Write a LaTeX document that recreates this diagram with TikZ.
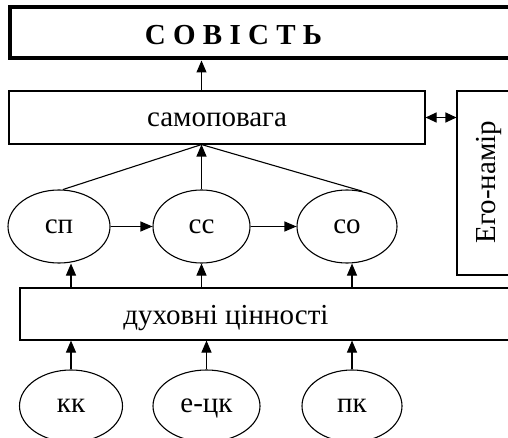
\documentclass[tikz,border=0pt]{standalone}
\usepackage{fontspec}
\setmainfont{Liberation Serif}
\usetikzlibrary{arrows.meta,shapes.geometric}
\begin{document}
\begin{tikzpicture}[x=1pt,y=1pt,
  thinline/.style={line width=1.1pt},
  box/.style={draw, line width=1.1pt, rectangle, inner sep=0pt, font=\fontsize{29}{31}\selectfont},
  oval/.style={draw, line width=1.1pt, ellipse, inner sep=0pt, font=\fontsize{29}{31}\selectfont, text height=13pt, text depth=0pt},
  arr/.style={line width=1.1pt, -{Triangle[length=12pt,width=10pt]}},
  darr/.style={line width=1.1pt, {Triangle[length=11pt,width=10pt]}-{Triangle[length=11pt,width=10pt]}},
  lbl/.style={font=\fontsize{29}{31}\selectfont, inner sep=0pt}
]
\useasboundingbox (0,0) rectangle (508,437);
\clip (0,0) rectangle (508,437);
\fill[white] (0,0) rectangle (508,437);

\node[draw, line width=4pt, minimum width=510pt, minimum height=51.5pt, inner sep=0pt] (ts) at (265,404.25) {};
\node[lbl, font=\bfseries\fontsize{29}{31}\selectfont, anchor=base] (title) at (233.5,392) {С О В І С Т Ь};

\node[box, minimum width=416pt, minimum height=53pt, text height=19pt, text depth=0pt] (sam) at (217,319.5) {самоповага};
\node[draw, line width=1.1pt, minimum width=73pt, minimum height=184pt, inner sep=0pt] (ego) at (493.5,254) {};
\node[lbl, rotate=90, anchor=base] (egot) at (495,255) {Его-намір};

\node[oval, minimum width=102pt, minimum height=73pt] (sp) at (59,210.5) {сп};
\node[oval, minimum width=97pt, minimum height=73pt] (cc) at (201.5,210.5) {сс};
\node[oval, minimum width=100pt, minimum height=73pt] (co) at (347,210.5) {со};

\node[draw, line width=1.1pt, minimum width=510pt, minimum height=52pt, inner sep=0pt] (dc) at (275,123) {};
\node[lbl, anchor=base] (dct) at (226,113) {духовні цінності};

\node[oval, minimum width=103pt, minimum height=72pt] (kk) at (71,31) {кк};
\node[oval, minimum width=107pt, minimum height=72pt] (ec) at (206.5,31) {е-цк};
\node[oval, minimum width=100pt, minimum height=72pt] (pk) at (352,31) {пк};

\coordinate (hub) at (sam.south -| cc.north);
\draw[arr] (sam.north -| cc.north) -- (ts.south -| cc.north);
\draw[darr] (sam.east) -- (sam.east -| ego.west);
\draw[thinline] (hub) -- (sp.84);
\draw[thinline] (hub) -- (co.67);
\draw[arr] (cc.north) -- (hub);
\draw[arr] (sp.east) -- (cc.west);
\draw[arr] (cc.east) -- (co.west);
\draw[arr] (dc.north -| kk.north) -- (sp.south -| kk.north);
\draw[arr] (dc.north -| cc.north) -- (cc.south);
\draw[arr] (dc.north -| pk.north) -- (co.south -| pk.north);
\draw[arr] (kk.north) -- (dc.south -| kk.north);
\draw[arr] (ec.north) -- (dc.south -| ec.north);
\draw[arr] (pk.north) -- (dc.south -| pk.north);
\end{tikzpicture}
\end{document}
